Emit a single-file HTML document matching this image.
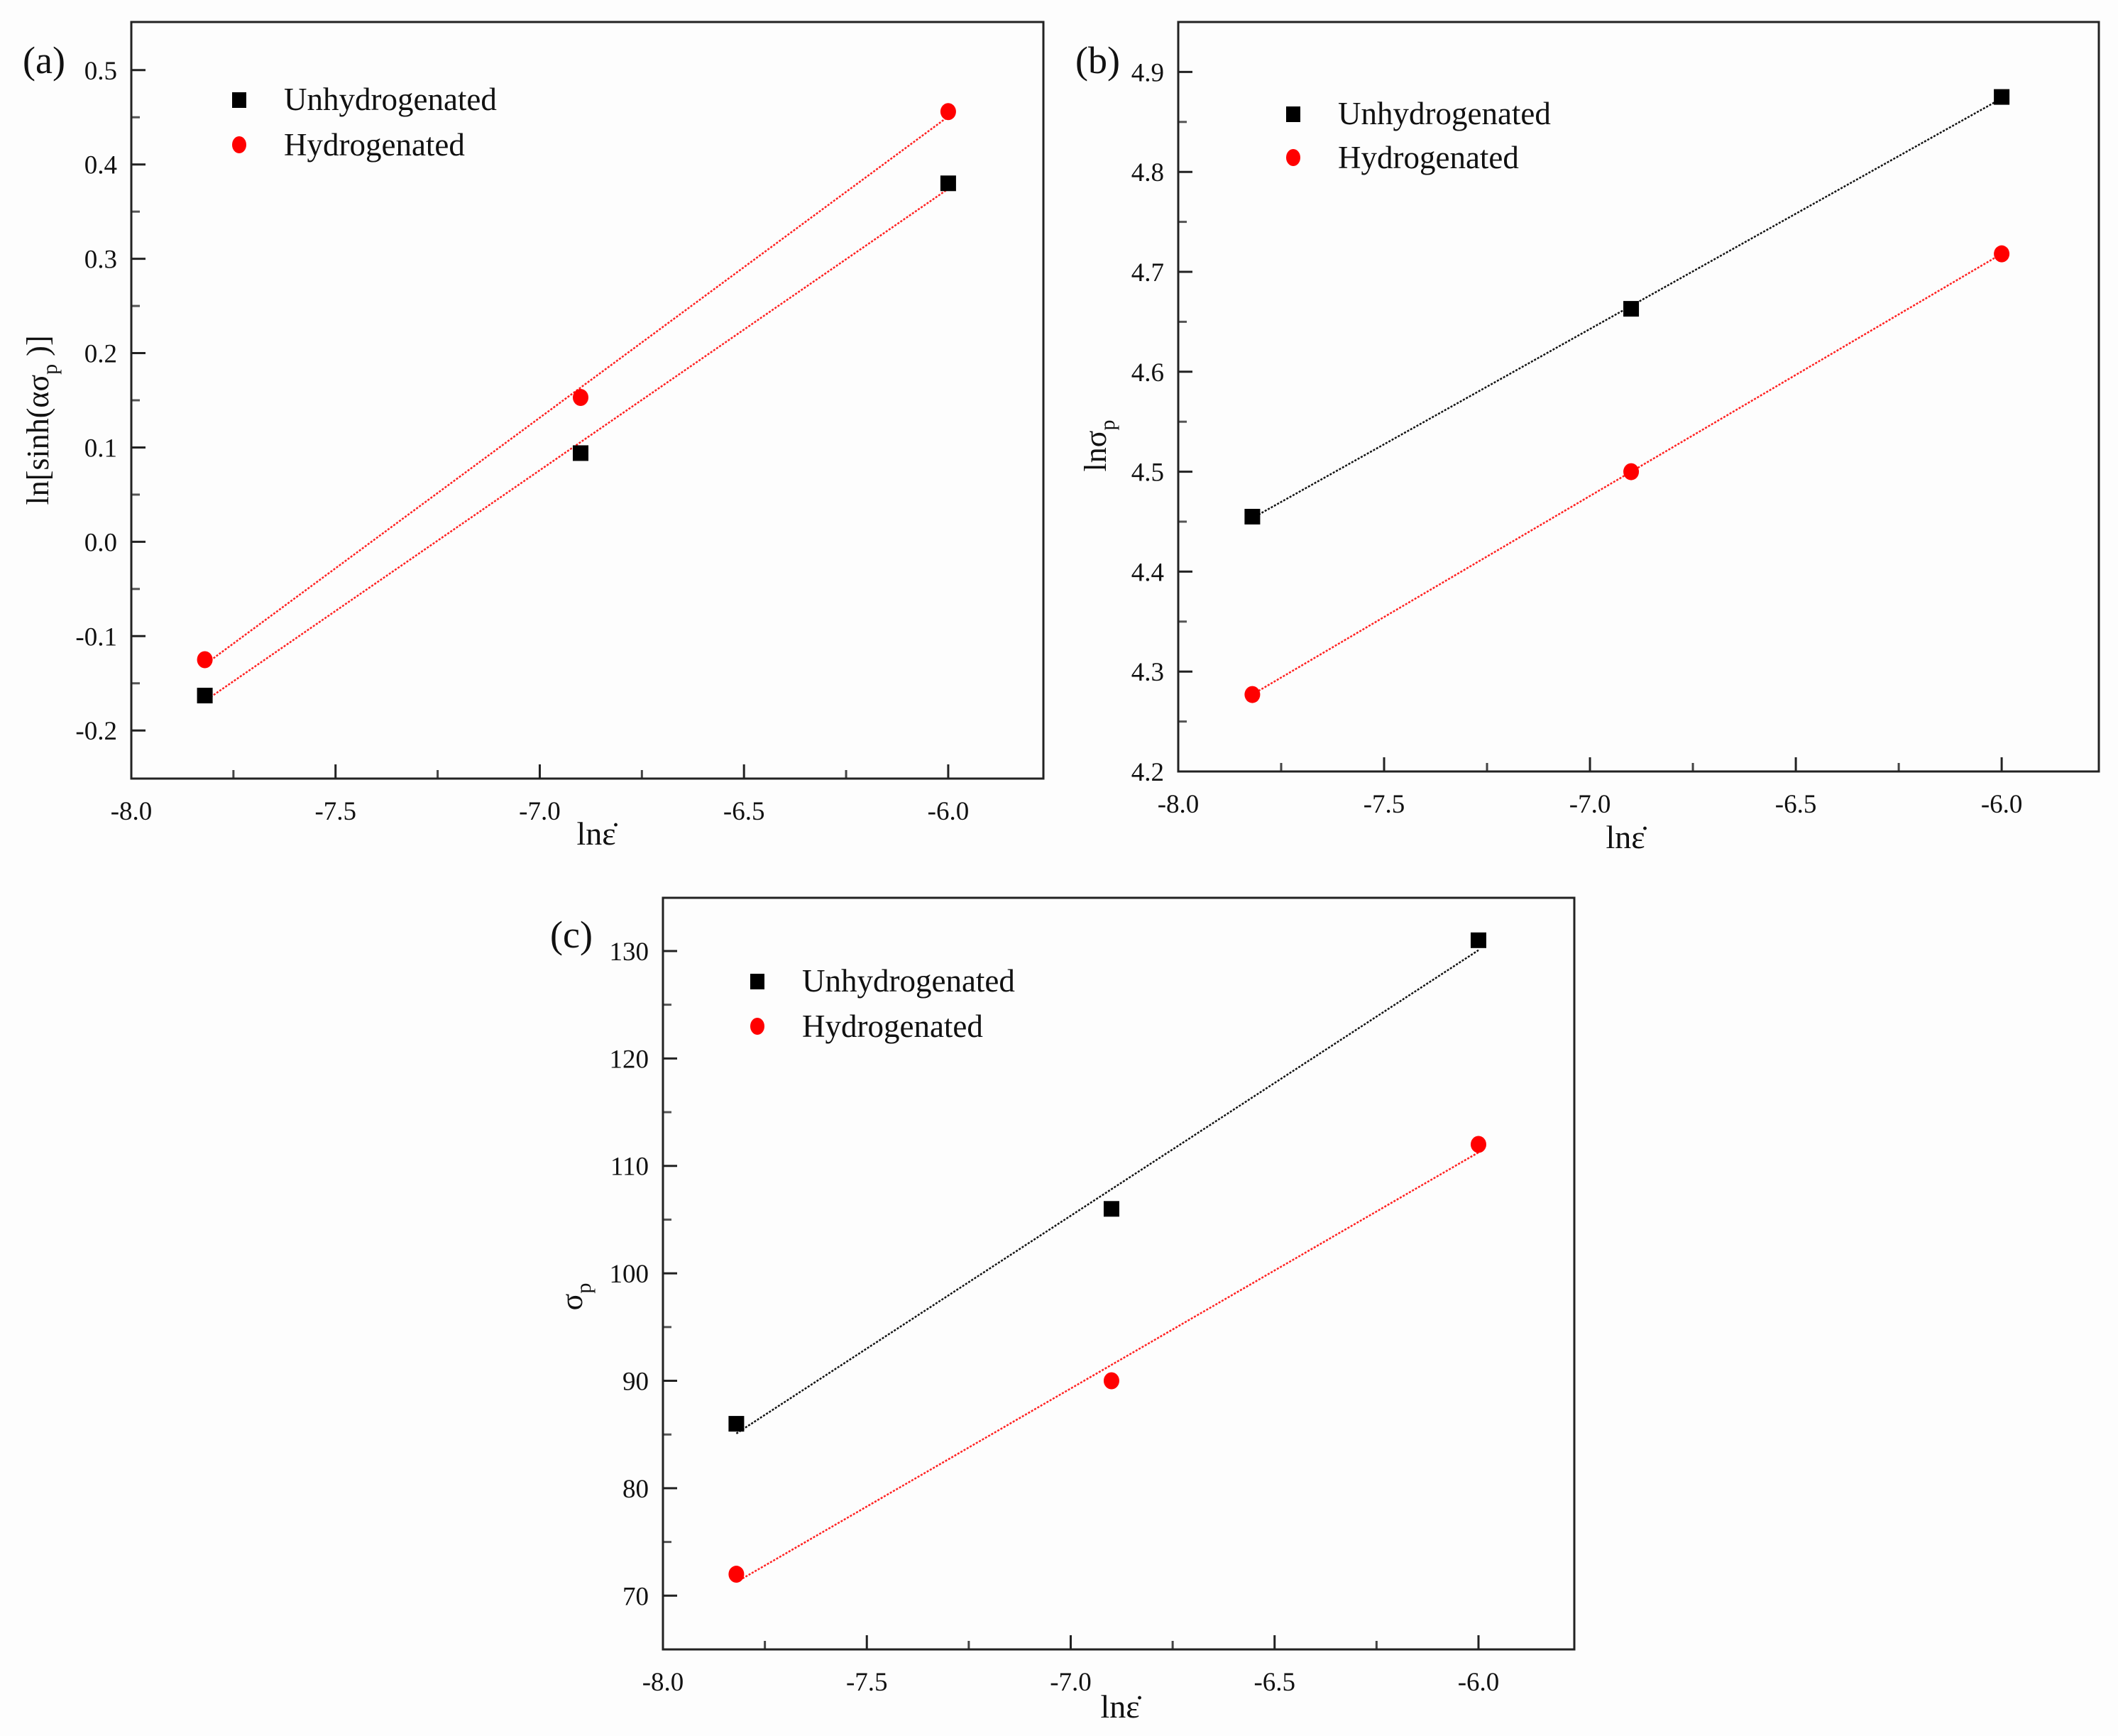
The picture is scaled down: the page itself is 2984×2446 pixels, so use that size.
<!DOCTYPE html>
<html><head><meta charset="utf-8"><style>
html,body{margin:0;padding:0;background:#fdfdfd;}
svg{display:block;font-family:"Liberation Serif",serif;}
</style></head><body>
<svg id="fig" width="2984" height="2446" viewBox="0 0 2984 2446" xmlns="http://www.w3.org/2000/svg"></svg>
<script>
// Shared x data (ln strain rate)
const xVals = [-7.82, -6.9, -6.0];
const xTicks = [-8.0, -7.5, -7.0, -6.5, -6.0];
const xTickLabels = ["-8.0", "-7.5", "-7.0", "-6.5", "-6.0"];
// Panel a
const aUnhydro = [-0.163, 0.094, 0.38];
const aHydro = [-0.125, 0.153, 0.456];
const aYTicks = [-0.2, -0.1, 0.0, 0.1, 0.2, 0.3, 0.4, 0.5];
const aYTickLabels = ["-0.2", "-0.1", "0.0", "0.1", "0.2", "0.3", "0.4", "0.5"];
// Panel b
const bUnhydro = [4.455, 4.663, 4.875];
const bHydro = [4.277, 4.5, 4.718];
const bYTicks = [4.2, 4.3, 4.4, 4.5, 4.6, 4.7, 4.8, 4.9];
const bYTickLabels = ["4.2", "4.3", "4.4", "4.5", "4.6", "4.7", "4.8", "4.9"];
// Panel c
const cUnhydro = [86, 106, 131];
const cHydro = [72, 90, 112];
const cYTicks = [70, 80, 90, 100, 110, 120, 130];
const cYTickLabels = ["70", "80", "90", "100", "110", "120", "130"];

const NS = "http://www.w3.org/2000/svg";
const fig = document.getElementById('fig');
function mk(tag, attrs, parent, text){
  const e = document.createElementNS(NS, tag);
  for (const k in attrs) e.setAttribute(k, attrs[k]);
  if (text !== undefined) e.textContent = text;
  parent.appendChild(e);
  return e;
}
function fit(xs, ys){
  const n = xs.length; let sx=0,sy=0,sxx=0,sxy=0;
  for(let i=0;i<n;i++){sx+=xs[i];sy+=ys[i];sxx+=xs[i]*xs[i];sxy+=xs[i]*ys[i];}
  const m=(n*sxy-sx*sy)/(n*sxx-sx*sx); return {m:m,b:(sy-m*sx)/n};
}

function panel(cfg){
  const g = mk('g', {}, fig);
  
  
  const L=cfg.L,R=cfg.R,T=cfg.T,B=cfg.B;
  const sx = v => L + (v - cfg.xmin)/(cfg.xmax - cfg.xmin)*(R-L);
  const sy = v => B - (v - cfg.ymin)/(cfg.ymax - cfg.ymin)*(B-T);
  const tg = mk('g', {}, g);
  
  
  xTicks.forEach((t,i)=>{
    const x = sx(t);
    mk('line',{x1:x,x2:x,y1:B,y2:B-20,stroke:'#222','stroke-width':3},tg);
    const lb = mk('text',{x:x,y:B+58,'text-anchor':'middle','font-size':37,fill:'#111'},tg,xTickLabels[i]);
    
    
    if(i<xTicks.length-1){
      const xm = sx(t+0.25);
      mk('line',{x1:xm,x2:xm,y1:B,y2:B-12,stroke:'#444','stroke-width':3},tg);
    }
  });
  const yg = mk('g', {}, g);
  
  
  cfg.yTicks.forEach((t,i)=>{
    const y = sy(t);
    mk('line',{x1:L,x2:L+20,y1:y,y2:y,stroke:'#222','stroke-width':3},yg);
    const lb = mk('text',{x:L-20,y:y+13,'text-anchor':'end','font-size':37,fill:'#111'},yg,cfg.yLabels[i]);
    
    
    if(i<cfg.yTicks.length-1){
      const ym = sy(t + cfg.yStep/2);
      mk('line',{x1:L,x2:L+12,y1:ym,y2:ym,stroke:'#555','stroke-width':3},yg);
    }
  });
  const fr = mk('rect',{x:L,y:T,width:R-L,height:B-T,fill:'none',stroke:'#222','stroke-width':3},g);
  
  
  [[cfg.un, cfg.unLine],[cfg.hy,'#ff2020']].forEach((s,si)=>{
    const f = fit(xVals, s[0]);
    const x0=xVals[0], x1=xVals[xVals.length-1];
    const ln = mk('line',{x1:sx(x0),y1:sy(f.m*x0+f.b),x2:sx(x1),y2:sy(f.m*x1+f.b),stroke:s[1],'stroke-width':2.5,'stroke-dasharray':'3 2'},g);
    
    
  });
  cfg.un.forEach((v,i)=>{
    const r = mk('rect',{x:sx(xVals[i])-11,y:sy(v)-11,width:22,height:22,fill:'#000'},g);
    
    
  });
  cfg.hy.forEach((v,i)=>{
    const c = mk('ellipse',{cx:sx(xVals[i]),cy:sy(v),rx:11,ry:12,fill:'#ff0000'},g);
    
    
  });
  const lg = mk('g',{},g);
  
  
  mk('rect',{x:cfg.legX-10,y:cfg.legY-10,width:20,height:22,fill:'#000'},lg);
  const t1 = mk('text',{x:cfg.legX+63,y:cfg.legY+15,'font-size':45,fill:'#111'},lg,'Unhydrogenated');
  
  
  mk('ellipse',{cx:cfg.legX,cy:cfg.legY+cfg.legGap,rx:10,ry:12,fill:'#ff0000'},lg);
  const t2 = mk('text',{x:cfg.legX+63,y:cfg.legY+cfg.legGap+15,'font-size':45,fill:'#111'},lg,'Hydrogenated');
  
  
  const pl = mk('text',{x:cfg.plX,y:cfg.plY,'font-size':54,fill:'#111'},g,'('+cfg.id+')');
  
  
  const xt = mk('text',{x:cfg.xtX,y:cfg.xtY,'text-anchor':'middle','font-size':46,fill:'#111'},g,'ln\u03B5\u0307');
  
  
  const yt = mk('text',{x:0,y:0,'text-anchor':'middle','font-size':44,fill:'#111',transform:'translate('+cfg.ytX+','+cfg.ytY+') rotate(-90)'},g);
  
  
  yt.appendChild(document.createTextNode(cfg.yTitle[0]));
  mk('tspan',{'font-size':30,dy:12},yt,'p');
  if(cfg.yTitle[1]){ mk('tspan',{dy:-12},yt,cfg.yTitle[1]); }
}

panel({id:'a',L:185,R:1470,T:31,B:1097,xmin:-8,xmax:-5.767,ymin:-0.251,ymax:0.551,yStep:0.1,
  yTicks:aYTicks,yLabels:aYTickLabels,un:aUnhydro,hy:aHydro,unLine:'#ff2020',
  legX:337,legY:140,legGap:64,plX:32,plY:103,xtX:840,xtY:1190,ytX:68,ytY:592,yTitle:['ln[sinh(\u03B1\u03C3',' )]']});
panel({id:'b',L:1660,R:2957,T:31,B:1087,xmin:-8,xmax:-5.764,ymin:4.2,ymax:4.95,yStep:0.1,
  yTicks:bYTicks,yLabels:bYTickLabels,un:bUnhydro,hy:bHydro,unLine:'#111',
  legX:1822,legY:160,legGap:62,plX:1515,plY:103,xtX:2290,xtY:1195,ytX:1558,ytY:628,yTitle:['ln\u03C3','']});
panel({id:'c',L:934,R:2218,T:1265,B:2324,xmin:-8,xmax:-5.765,ymin:65,ymax:134.95,yStep:10,
  yTicks:cYTicks,yLabels:cYTickLabels,un:cUnhydro,hy:cHydro,unLine:'#111',
  legX:1067,legY:1382,legGap:64,plX:775,plY:1335,xtX:1578,xtY:2420,ytX:820,ytY:1827,yTitle:['\u03C3','']});
</script>
</body></html>
